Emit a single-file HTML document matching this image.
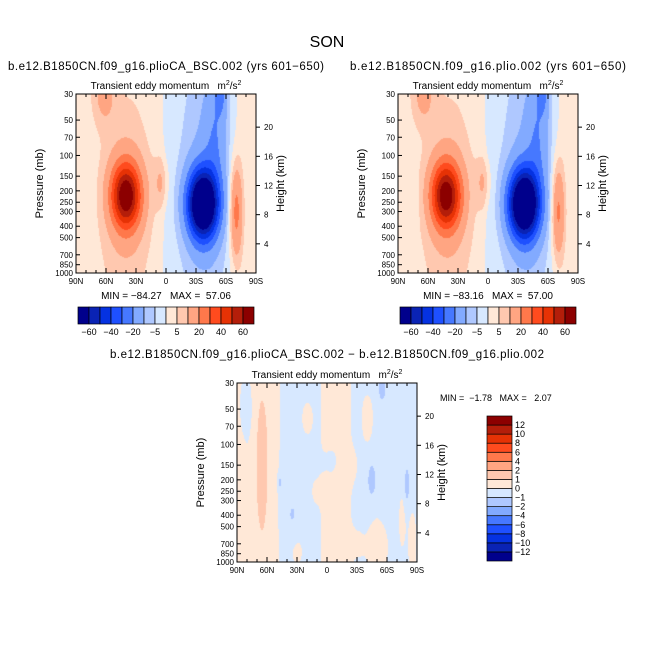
<!DOCTYPE html>
<html><head><meta charset="utf-8"><style>
body{margin:0;background:#fff;}
#wrap{position:relative;width:654px;height:654px;overflow:hidden;background:#fff;font-family:"Liberation Sans",sans-serif;}
canvas{position:absolute;}
svg{position:absolute;left:0;top:0;}
text{font-family:"Liberation Sans",sans-serif;fill:#000;white-space:pre;}
</style></head><body>
<div id="wrap">
<canvas id="c0" width="180" height="179" style="left:76px;top:94px"></canvas>
<canvas id="c1" width="180" height="179" style="left:398px;top:94px"></canvas>
<canvas id="c2" width="180" height="179" style="left:237px;top:383px"></canvas>
<svg id="s" width="654" height="654" xml:space="preserve"></svg>
</div>
<script>
// ---- data ----
const levelsMain = [-60,-50,-40,-30,-20,-10,-5,0,5,10,20,30,40,50,60];
const levelsDiff = [-12,-10,-8,-6,-4,-2,-1,0,1,2,4,6,8,10,12];
const mainLabels = ["-60","-40","-20","-5","5","20","40","60"];
const diffLabels = ["12","10","8","6","4","2","1","0","-1","-2","-4","-6","-8","-10","-12"];
const colors = ["#00008c","#0a23b4","#0532e1","#1e50ff","#4678ff","#82aaff","#afc8ff","#d7e8ff",
 "#ffe8d7","#ffc8af","#ffa582","#ff784b","#ff4b1e","#e63205","#b41e0a","#8c0000"];
const pressTicks = [30,50,70,100,150,200,250,300,400,500,700,850,1000];
const kmTicks = [4,8,12,16,20];
const latTicks = [90,60,30,0,-30,-60,-90];
const latTickLabels = ["90N","60N","30N","0","30S","60S","90S"];
const baseLats = [90,75,60,45,30,15,5,0,-15,-30,-45,-60,-75,-90];
const baseLeft  = [1.5,2,2.5,2.5,2.5,2,1,-2,-3,-4,-4,-2,2,1];
const baseRight = [1.5,2,2.5,2.5,2.5,2,1,-2,-3,-4,-4,-2,2,1];
// blobs: [lat, pressure, amplitude, sigmaLat, sigmaLog10p]
const blobsLeft = [[40,220,62,10,0.19],[40,250,9,17,0.55],[-37,260,-88,10.5,0.2],[-40,200,-8,16,0.6],
 [-50,60,-12,8,0.35],[-55,30,-14,4,0.12],[5,170,9,5,0.15],[-70,300,24,4.5,0.28],[62,30,10,8,0.18]];
const blobsRight = [[42,220,60,10,0.19],[40,250,9,17,0.55],[-36,260,-88,10.5,0.2],[-40,200,-8,16,0.6],
 [-50,60,-12,8,0.35],[-55,30,-14,4,0.12],[5,170,9,5,0.15],[-70,300,22,4.5,0.28],[65,30,10,8,0.18],[72,250,-4,2,0.12]];
const diffLats = [90,80,70,60,50,40,30,20,10,0,-10,-20,-30,-40,-50,-60,-70,-80,-90];
const diffBase = [0.2,0.1,0.5,0.5,0.1,-0.3,-0.4,-0.3,-0.2,0.3,0.3,0.2,-0.3,-0.3,-0.2,-0.3,-0.4,-0.3,-0.2];
const blobsDiff = [[65,150,1.3,4,0.4],[-45,200,-1.5,3,0.1],[-80,220,-1.3,2,0.12],[-55,32,-1.4,3,0.1],
 [47,210,-1.2,1.5,0.05],[-50,750,0.8,8,0.15],[20,60,0.7,4,0.1],[-75,450,0.6,3,0.2],[35,400,-0.7,6,0.15],
 [-5,140,-0.7,6,0.08],[-40,60,0.7,4,0.15],[-20,150,0.7,8,0.1],[85,500,0.5,5,0.4],[80,50,-0.5,5,0.2],
 [30,800,0.6,5,0.12],[-30,700,0.5,5,0.1],[10,250,0.5,4,0.08],[-85,700,0.6,3,0.2]];

// ---- axes ----
const L30=Math.log10(30), L1000=Math.log10(1000);
function xOf(P,lat){return P.x0+(90-lat)/180*P.w;}
function yOf(P,p){return P.y0+(Math.log10(p)-L30)/(L1000-L30)*P.h;}
function pOfKm(k){return 1000*Math.exp(-k/7);}
function interp(xs,ys,v){for(let i=0;i<xs.length-1;i++){if(v<=xs[i]&&v>=xs[i+1]){const t=(xs[i]-v)/(xs[i]-xs[i+1]);return ys[i]+t*(ys[i+1]-ys[i]);}}return ys[ys.length-1];}
function field(lat,p,bl,bv,blobs){let v=interp(bl,bv,lat);const lp=Math.log10(p);
 for(const b of blobs){const dl=(lat-b[0])/b[3],dp=(lp-Math.log10(b[1]))/b[4];v+=b[2]*Math.exp(-0.5*(dl*dl+dp*dp));}return v;}
function draw(id,P,bl,bv,blobs,levels){const cv=document.getElementById(id),ctx=cv.getContext('2d');
 const img=ctx.createImageData(P.w,P.h);
 for(let j=0;j<P.h;j++)for(let i=0;i<P.w;i++){const lat=90-(i+0.5)/P.w*180;
  const p=Math.pow(10,L30+(j+0.5)/P.h*(L1000-L30));const v=field(lat,p,bl,bv,blobs);
  let k=0;while(k<levels.length&&v>=levels[k])k++;const c=colors[k];
  const o=(j*P.w+i)*4;img.data[o]=parseInt(c.substr(1,2),16);img.data[o+1]=parseInt(c.substr(3,2),16);img.data[o+2]=parseInt(c.substr(5,2),16);img.data[o+3]=255;}
 ctx.putImageData(img,0,0);}
const S=document.getElementById('s');const NS='http://www.w3.org/2000/svg';
function el(tag,attrs,txt){const e=document.createElementNS(NS,tag);for(const k in attrs)e.setAttribute(k,attrs[k]);if(txt!==undefined)e.textContent=txt;S.appendChild(e);return e;}
function txt(x,y,s,size,anchor,name,extra){const e=el('text',Object.assign({x:x,y:y,'font-size':size,'text-anchor':anchor||'middle'},extra||{}),s);
 
 return e;}
function axes(P,pre){
 const r=el('rect',{x:P.x0,y:P.y0,width:P.w,height:P.h,fill:'none',stroke:'#000','stroke-width':1});
 
 
 for(let lat=90;lat>=-90;lat-=10){const x=xOf(P,lat),len=(lat%30===0)?5:3;
  el('line',{x1:x,x2:x,y1:P.y0,y2:P.y0+len,stroke:'#000'});el('line',{x1:x,x2:x,y1:P.y0+P.h,y2:P.y0+P.h-len,stroke:'#000'});}
 latTicks.forEach((lat,i)=>txt(xOf(P,lat),P.y0+P.h+11,latTickLabels[i],8,'middle',pre+'-x-tick-label'));
 pressTicks.forEach(p=>{const y=yOf(P,p);el('line',{x1:P.x0,x2:P.x0+4,y1:y,y2:y,stroke:'#000'});
  txt(P.x0-3,y+3,String(p),8,'end',pre+'-y-tick-label');});
 kmTicks.forEach(k=>{const y=yOf(P,pOfKm(k));el('line',{x1:P.x0+P.w,x2:P.x0+P.w+4,y1:y,y2:y,stroke:'#000'});
  txt(P.x0+P.w+8,y+3,String(k),8,'start',pre+'-km-tick-label');});
 txt(0,0,'Pressure (mb)',11,'middle',pre+'-y-axis-title',{transform:`translate(${P.x0-33},${P.y0+P.h/2}) rotate(-90)`});
 txt(0,0,'Height (km)',11,'middle',pre+'-km-axis-title',{transform:`translate(${P.x0+P.w+28},${P.y0+P.h/2}) rotate(-90)`,fill:'#444'});
 const t=txt(P.x0+P.w/2,P.y0-5,'',10,'middle',pre+'-subtitle');
 t.innerHTML='Transient eddy momentum&#160;&#160;&#160;m<tspan dy="-4" font-size="7">2</tspan><tspan dy="4">/s</tspan><tspan dy="-4" font-size="7">2</tspan>';
}
function hbar(x0,y0,w,h,pre){const bw=w/16;
 for(let k=0;k<16;k++){const r=el('rect',{x:x0+k*bw,y:y0,width:bw,height:h,fill:colors[k],stroke:'#000','stroke-width':0.7});
  
  }
 mainLabels.forEach((s,i)=>txt(x0+(2*i+1)*bw,y0+h+11,s.replace('-','\u2212'),9,'middle',pre+'-colorbar-label'));}
// panels
const P0={x0:76,y0:94,w:180,h:179},P1={x0:398,y0:94,w:180,h:179},P2={x0:237,y0:383,w:180,h:179};
draw('c0',P0,baseLats,baseLeft,blobsLeft,levelsMain);
draw('c1',P1,baseLats,baseRight,blobsRight,levelsMain);
draw('c2',P2,diffLats,diffBase,blobsDiff,levelsDiff);
txt(327,47,'SON',16,'middle','figure-title',{fill:'#222'});
txt(166,70,'b.e12.B1850CN.f09_g16.plioCA_BSC.002 (yrs 601\u2212650)',11.5,'middle','left-panel-title',{textLength:316});
txt(488,70,'b.e12.B1850CN.f09_g16.plio.002 (yrs 601\u2212650)',11.5,'middle','right-panel-title',{textLength:276});
txt(327,358,'b.e12.B1850CN.f09_g16.plioCA_BSC.002 \u2212 b.e12.B1850CN.f09_g16.plio.002',11.5,'middle','diff-panel-title',{textLength:434});
axes(P0,'left');axes(P1,'right');axes(P2,'diff');
txt(166,299,'MIN = \u221284.27   MAX =  57.06',10,'middle','left-min-max');
txt(488,299,'MIN = \u221283.16   MAX =  57.00',10,'middle','right-min-max');
txt(440,401,'MIN =  \u22121.78   MAX =   2.07',9,'start','diff-min-max');
hbar(78,307,176,17,'left');hbar(400,307,176,17,'right');
// vertical colorbar
const vb={x:487,y:416,w:25,h:145};const bh=vb.h/16;
for(let k=0;k<16;k++){const r=el('rect',{x:vb.x,y:vb.y+(15-k)*bh,width:vb.w,height:bh,fill:colors[k],stroke:'#000','stroke-width':0.7});
 
 }
diffLabels.forEach((s,i)=>txt(vb.x+vb.w+3,vb.y+(i+1)*bh+3,s.replace('-','\u2212'),9,'start','diff-colorbar-label'));
</script>
</body></html>
